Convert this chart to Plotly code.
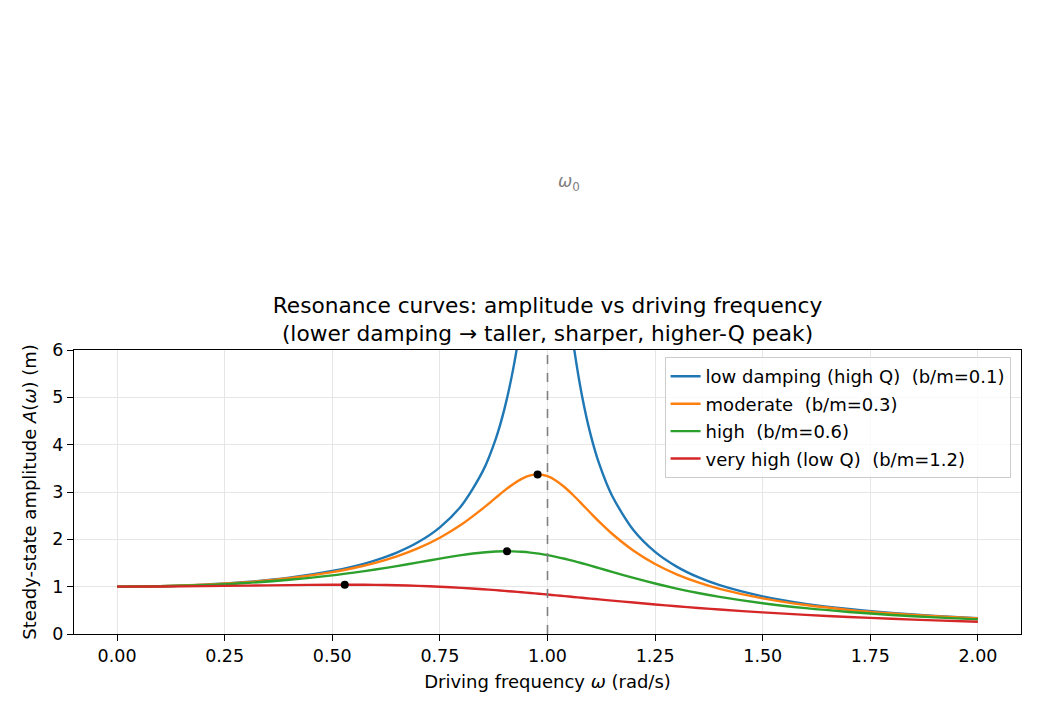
import plotly.graph_objects as go

# Driving frequency samples (rad/s)
omega = [0.0, 0.1, 0.2, 0.3, 0.4, 0.5, 0.55, 0.6, 0.65, 0.7, 0.75, 0.8, 0.85, 0.88,
         0.9, 0.92, 0.94, 0.96, 0.98, 1.0, 1.02, 1.04, 1.06, 1.08, 1.1, 1.12, 1.15,
         1.2, 1.25, 1.3, 1.35, 1.4, 1.5, 1.6, 1.7, 1.8, 1.9, 2.0]

amp_low = [1.0, 1.0101, 1.0414, 1.0983, 1.1891, 1.3304, 1.4292, 1.5557, 1.7207, 1.9426,
           2.2529, 2.7116, 3.4456, 4.1296, 4.7565, 5.5852, 6.6837, 8.0679, 9.4608, 10.0,
           9.1150, 7.5648, 6.1414, 5.0409, 4.2182, 3.5976, 2.9206, 2.1926, 1.7354, 1.4242,
           1.1997, 1.0308, 0.7943, 0.6377, 0.5270, 0.4450, 0.3821, 0.3326]

amp_moderate = [1.0, 1.0096, 1.0396, 1.0936, 1.1785, 1.3074, 1.3952, 1.5041, 1.6406, 1.8131,
                2.0327, 2.3112, 2.6534, 2.8797, 3.0289, 3.1659, 3.2778, 3.3503, 3.3709, 3.3333,
                3.2399, 3.1008, 2.9311, 2.7455, 2.5566, 2.3728, 2.1175, 1.7590, 1.4792, 1.2617,
                1.0907, 0.9543, 0.7527, 0.6127, 0.5108, 0.4340, 0.3743, 0.3269]

amp_high = [1.0, 1.0083, 1.0336, 1.0780, 1.1447, 1.2380, 1.2960, 1.3618, 1.4350, 1.5136,
            1.5933, 1.6667, 1.7223, 1.7416, 1.7469, 1.7453, 1.7364, 1.7203, 1.6968, 1.6667,
            1.6304, 1.5890, 1.5434, 1.4947, 1.4438, 1.3917, 1.3129, 1.1851, 1.0667, 0.9603,
            0.8663, 0.7839, 0.6492, 0.5459, 0.4656, 0.4021, 0.3511, 0.3095]

amp_very_high = [1.0, 1.0028, 1.0106, 1.0218, 1.0336, 1.0412, 1.0414, 1.0381, 1.0304, 1.0176,
                 0.9993, 0.9753, 0.9460, 0.9261, 0.9119, 0.8972, 0.8818, 0.8661, 0.8499, 0.8333,
                 0.8166, 0.7996, 0.7825, 0.7653, 0.7482, 0.7311, 0.7056, 0.6641, 0.6242, 0.5862,
                 0.5504, 0.5168, 0.4563, 0.4042, 0.3596, 0.3214, 0.2885, 0.2603]

series_names = ["low damping (high Q)  (b/m=0.1)", "moderate  (b/m=0.3)",
                "high  (b/m=0.6)", "very high (low Q)  (b/m=1.2)"]
series_colors = ["#1f77b4", "#ff7f0e", "#2ca02c", "#d62728"]

# Peak markers (visible ones)
peak_omega = [0.977, 0.906, 0.529]
peak_amp = [3.371, 1.747, 1.042]

omega0 = 1.0
omega0_label_x = 1.02
omega0_label_y = 9.5
y_max = 6.0

FONT = "DejaVu Sans"

fig = go.Figure()
for i, (name, ys, col) in enumerate(zip(series_names,
                                        [amp_low, amp_moderate, amp_high, amp_very_high],
                                        series_colors)):
    fig.add_trace(go.Scatter(x=omega, y=ys, mode="lines", name=name, legendgroup=f"g{i}",
                             line=dict(color=col, width=2.4, shape="spline", smoothing=0.8)))

fig.add_trace(go.Scatter(x=peak_omega, y=peak_amp, mode="markers", legendgroup="peaks",
                         marker=dict(color="black", size=8), showlegend=False,
                         cliponaxis=True))

fig.add_vline(x=omega0, line=dict(color="#808080", width=1.6, dash="dash"))

# label sits above the axes, outside the visible y range (y=9.5 in data units)
fig.add_annotation(x=omega0_label_x, y=omega0_label_y / y_max, xref="x", yref="paper",
                   text="<i>ω</i><sub>0</sub>", showarrow=False,
                   xanchor="left", yanchor="middle", yshift=2,
                   font=dict(family=FONT, size=17, color="#808080"))

axis_common = dict(showline=True, linecolor="black", linewidth=1.3, mirror=True,
                   ticks="outside", ticklen=6, tickwidth=1.3, tickcolor="black",
                   showgrid=True, gridcolor="#e6e6e6", gridwidth=1.2, zeroline=False,
                   tickfont=dict(family=FONT, size=17.5, color="black"))

fig.update_xaxes(range=[-0.1, 2.1], tickvals=[0, 0.25, 0.5, 0.75, 1.0, 1.25, 1.5, 1.75, 2.0],
                 ticktext=["0.00", "0.25", "0.50", "0.75", "1.00", "1.25", "1.50", "1.75", "2.00"],
                 title=dict(text="Driving frequency <i>ω</i> (rad/s)",
                            font=dict(family=FONT, size=18, color="black"), standoff=10),
                 **axis_common)
fig.update_yaxes(range=[0, y_max], tickvals=[0, 1, 2, 3, 4, 5, 6],
                 title=dict(text="Steady-state amplitude <i>A</i>(<i>ω</i>) (m)",
                            font=dict(family=FONT, size=18, color="black"), standoff=10),
                 **axis_common)

fig.update_layout(
    width=1040, height=715,
    margin=dict(l=74, r=19, t=350, b=81, autoexpand=False),
    paper_bgcolor="white", plot_bgcolor="white",
    font=dict(family=FONT, size=17.5, color="black"),
    title=dict(text="Resonance curves: amplitude vs driving frequency<br>(lower damping → taller, sharper, higher-Q peak)",
               x=0.5, xref="paper", xanchor="center", y=1 - 313 / 715, yref="container",
               yanchor="top", font=dict(family=FONT, size=21.7, color="black")),
    legend=dict(x=0.989, y=0.975, xanchor="right", yanchor="top",
                bgcolor="rgba(255,255,255,0.8)", bordercolor="#cccccc", borderwidth=1,
                font=dict(family=FONT, size=18, color="black"),
                traceorder="grouped", tracegroupgap=1),
    showlegend=True,
)

fig.write_html("out.html")
